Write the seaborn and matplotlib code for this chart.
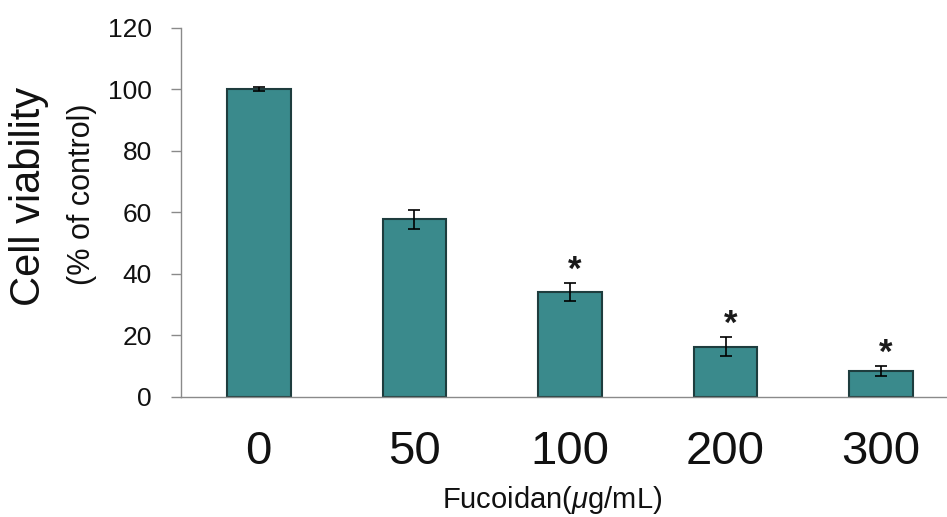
import matplotlib
matplotlib.use("Agg")
import matplotlib.pyplot as plt
import seaborn as sns
import numpy as np
import pandas as pd

categories = ["0", "50", "100", "200", "300"]
means = [100.0, 57.7, 34.1, 16.4, 8.5]
errors = [0.6, 3.0, 3.0, 3.2, 1.7]
significant = [False, False, True, True, True]
yticks = [0, 20, 40, 60, 80, 100, 120]

sns.set_style("white")
plt.rcParams['font.family'] = ['Liberation Sans', 'DejaVu Sans']
plt.rcParams['mathtext.fontset'] = 'custom'
plt.rcParams['mathtext.it'] = 'Liberation Sans:italic'
plt.rcParams['mathtext.rm'] = 'Liberation Sans'

df = pd.DataFrame({"dose": categories, "viability": means})

fig = plt.figure(figsize=(9.47, 5.17), dpi=100)
ax = fig.add_axes([181/947, 1-397/517, (959-181)/947, (397-27.7)/517])

sns.barplot(data=df, x="dose", y="viability", ax=ax, color="#3A8A8C",
            saturation=1, width=0.41, edgecolor="#1E3D3E", linewidth=1.5,
            errorbar=None)
ax.errorbar(np.arange(len(categories)), means, yerr=errors, fmt="none",
            ecolor="black", elinewidth=1.2, capsize=4, capthick=1.2)

for i, (m, e, s) in enumerate(zip(means, errors, significant)):
    if s:
        ax.text(i + 0.03, m + e + 4.0, "*", ha="center", va="center",
                fontsize=25, fontweight="bold", color="#1a1a1a")

ax.set_xlim(-0.5, 4.5)
ax.set_ylim(0, 120)
ax.set_yticks(yticks)
ax.set_yticklabels([str(t) for t in yticks], fontsize=19, color="#111111")
ax.set_xticks(range(len(categories)))
ax.set_xticklabels(categories, fontsize=34, color="#111111")
ax.set_xticks(np.arange(-0.5, 5.0, 1.0), minor=True)
ax.tick_params(axis="x", which="major", length=0, pad=24)
ax.tick_params(axis="x", which="minor", length=11, width=1, color="#8a8a8a", direction="out")
ax.tick_params(axis="y", which="major", length=7, width=1, color="#8a8a8a", direction="out", pad=14, left=True)
for sp in ["top", "right"]:
    ax.spines[sp].set_visible(False)
for sp in ["left", "bottom"]:
    ax.spines[sp].set_color("#8a8a8a")
    ax.spines[sp].set_linewidth(1.0)
ax.set_xlabel("")
ax.set_ylabel("")

fig.text(29/947, 1-196/517, "Cell viability", rotation=90, ha="center", va="center",
         fontsize=30, color="#111111")
fig.text(82/947, 1-194/517, "(% of control)", rotation=90, ha="center", va="center",
         fontsize=22, color="#111111")
fig.text(552/947, 1-500/517, "Fucoidan($\\mathit{\\mu}$g/mL)", ha="center", va="center",
         fontsize=21, color="#111111")

fig.savefig("out.png", dpi=100)
